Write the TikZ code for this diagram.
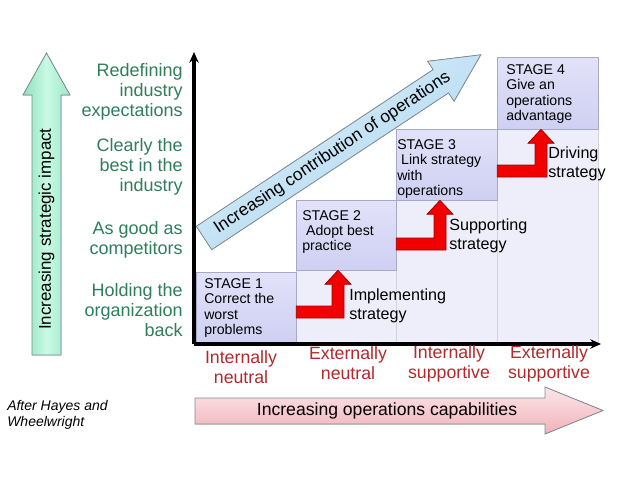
\documentclass[tikz,border=0pt]{standalone}
\usepackage{fontspec}
\setmainfont{Liberation Sans}
\usetikzlibrary{arrows.meta,calc}
\definecolor{labgreen}{HTML}{2E7D5B}
\definecolor{labred}{HTML}{B5272B}
\definecolor{stagetop}{HTML}{E2E2FA}
\definecolor{stagebot}{HTML}{CFCFF2}
\definecolor{stageborder}{HTML}{A8A8C8}
\definecolor{colfill}{HTML}{EEEEFA}
\definecolor{colline}{HTML}{D2D2DC}
\definecolor{stepred}{HTML}{F20000}
\definecolor{stepdark}{HTML}{A00000}
\definecolor{gL}{HTML}{8EE2BC}
\definecolor{gM}{HTML}{C8FAE4}
\definecolor{gR}{HTML}{9CE8C6}
\definecolor{pT}{HTML}{FCE6E8}
\definecolor{pB}{HTML}{F0B2BA}
\definecolor{bT}{HTML}{E2F3FB}
\definecolor{bB}{HTML}{A6D2EE}
\definecolor{shapeline}{HTML}{7F8A94}
\tikzset{
  ylab/.style={text=labgreen, align=right, anchor=east, inner sep=0pt, font=\fontsize{13.5}{15}\selectfont},
  xlab/.style={text=labred, align=center, inner sep=0pt, font=\fontsize{13.3}{15}\selectfont},
  stagebox/.style={draw=stageborder, line width=0.5pt, top color=stagetop, bottom color=stagebot, inner sep=0pt},
  stagetext/.style={anchor=west, align=left, inner sep=0pt, font=\fontsize{10.6}{11.4}\selectfont},
  stratlab/.style={anchor=west, align=left, inner sep=0pt, font=\fontsize{12.1}{14.2}\selectfont},
  colbg/.style={fill=colfill, draw=colline, line width=0.5pt},
  redstep/.style={fill=stepred, draw=stepdark, line width=0.6pt, line join=miter},
  axisline/.style={line width=2.4pt, -{Stealth[length=8pt,width=7pt]}},
  fatarrow/.style={draw=shapeline, line width=0.6pt, line join=miter}
}
\newcommand\bentup[2]{%
  \filldraw[redstep] let \p1=#1, \p2=#2 in
  (\x1,\y1+4.5pt) -- (\x2-4.5pt,\y1+4.5pt) -- (\x2-4.5pt,\y2-10.5pt) -- (\x2-9.75pt,\y2-10.5pt)
  -- (\x2,\y2) -- (\x2+9.75pt,\y2-10.5pt) -- (\x2+4.5pt,\y2-10.5pt) -- (\x2+4.5pt,\y1-4.5pt)
  -- (\x1,\y1-4.5pt) -- cycle;}
\begin{document}
\begin{tikzpicture}[x=0.75pt,y=-0.75pt]
\useasboundingbox (0,0) rectangle (638,479);

% column backgrounds
\filldraw[colbg] (296,270) rectangle (396,344);
\filldraw[colbg] (396,200) rectangle (497,344);
\filldraw[colbg] (497,129) rectangle (598,344);

% stage boxes
\node[stagebox, minimum width=75pt, minimum height=53.25pt] (s1) at (246,307.5) {};
\node[stagebox, minimum width=75pt, minimum height=52.5pt] (s2) at (346,235) {};
\node[stagebox, minimum width=75.75pt, minimum height=53.25pt] (s3) at (446.5,164.5) {};
\node[stagebox, minimum width=75.75pt, minimum height=54pt] (s4) at (547.5,93) {};

\node[stagetext] (t1) at (204,308) {STAGE 1\\Correct the\\worst\\problems};
\node[stagetext] (t2) at (302,232) {STAGE 2\\\ Adopt best\\practice};
\node[stagetext] (t3) at (397,169) {STAGE 3\\\ Link strategy\\with\\operations};
\node[stagetext] (t4) at (506,94) {STAGE 4\\Give an\\operations\\advantage};

% red bent arrows
\bentup{($(s1.east)+(0,4.5)$)}{($(s2.south)+(-8,0)$)}
\bentup{($(s2.east)+(0,9)$)}{($(s3.south)+(-6.5,0)$)}
\bentup{($(s3.east)+(0,6.5)$)}{($(s4.south)+(-6.5,0)$)}

\node[stratlab] (l1) at (349,306) {Implementing\\strategy};
\node[stratlab] (l2) at (449,236) {Supporting\\strategy};
\node[stratlab] (l3) at (548,164) {Driving\\strategy};

% axes
\coordinate (o) at (194,344);
\coordinate (ytop) at (194,52);
\coordinate (xend) at (601,344);
\draw[axisline] (o) -- (ytop);
\draw[axisline] (o) -- (xend);

% diagonal arrow
\begin{scope}[shift={(204,238)}, rotate=33.5]
  \filldraw[fatarrow, top color=bT, bottom color=bB, shading angle=33.5]
    (0,-14) -- (284,-14) -- (284,-24) -- (332,0) -- (284,24) -- (284,14) -- (0,14) -- cycle;
  \node[rotate=33.5, inner sep=0pt, font=\fontsize{13}{15}\selectfont] (diag) at (154,0) {Increasing contribution of operations};
\end{scope}

% y labels
\node[ylab] (y4) at (183,92) {Redefining\\industry\\expectations};
\node[ylab] (y3) at (183,167) {Clearly the\\best in the\\industry};
\node[ylab] (y2) at (183,240) {As good as\\competitors};
\node[ylab] (y1) at (183,310) {Holding the\\organization\\back};

% green vertical arrow
\filldraw[fatarrow, left color=gL, right color=gR, middle color=gM]
  (32,355) -- (32,95) -- (23,95) -- (46.5,53) -- (70,95) -- (61,95) -- (61,355) -- cycle;
\node[rotate=90, inner sep=0pt, font=\fontsize{12.7}{15}\selectfont] (vimpact) at (46.5,229) {Increasing strategic impact};

% x labels
\node[xlab] (x1) at (241,367) {Internally\\neutral};
\node[xlab] (x2) at (348,363) {Externally\\neutral};
\node[xlab] (x3) at (449,364) {Internally\\supportive};
\node[xlab] (x4) at (549,364) {Externally\\supportive};

% pink horizontal arrow
\filldraw[fatarrow, top color=pT, bottom color=pB]
  (195,398) -- (545,398) -- (545,387) -- (603,410.5) -- (545,434) -- (545,424) -- (195,424) -- cycle;
\node[inner sep=0pt, font=\fontsize{13.2}{15}\selectfont] (hcap) at (387,411) {Increasing operations capabilities};

% credit
\node[anchor=west, align=left, inner sep=0pt, font=\fontsize{10.5}{12}\selectfont\itshape] (credit) at (7,415) {After Hayes and\\Wheelwright};
\end{tikzpicture}
\end{document}
